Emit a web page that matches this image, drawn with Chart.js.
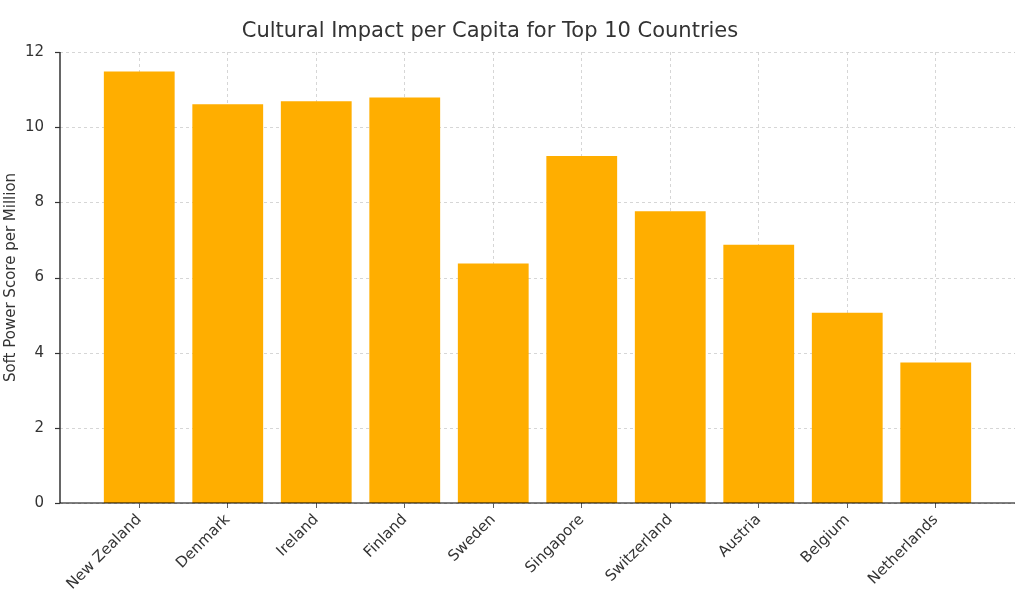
<!DOCTYPE html>
<html>
<head>
<meta charset="utf-8">
<script src="https://cdn.jsdelivr.net/npm/chart.js"></script>
<style>
  body { margin: 0; background: #fff; }
  #wrap { width: 1024px; height: 611px; }
</style>
</head>
<body>
<div id="wrap"><canvas id="chart"></canvas></div>
<script>
const countries = ['New Zealand', 'Denmark', 'Ireland', 'Finland', 'Sweden', 'Singapore', 'Switzerland', 'Austria', 'Belgium', 'Netherlands'];
const scores = [11.48, 10.61, 10.69, 10.79, 6.37, 9.23, 7.76, 6.87, 5.06, 3.74];
const yTicks = [0, 2, 4, 6, 8, 10, 12];

Chart.defaults.font.family = 'DejaVu Sans';
Chart.defaults.color = '#333';

// outer plot frame (axes span wider than the bar area)
const FRAME_LEFT = 60, FRAME_RIGHT = 1015;

new Chart(document.getElementById('chart'), {
  type: 'bar',
  data: {
    labels: countries,
    datasets: [{
      data: scores,
      backgroundColor: '#ffae00',
      barPercentage: 0.8,
      categoryPercentage: 1.0
    }]
  },
  options: {
    responsive: true,
    maintainAspectRatio: false,
    animation: false,
    layout: { padding: { left: 0, right: 44, top: 0, bottom: 0 } },
    plugins: {
      legend: { display: false },
      tooltip: { enabled: false },
      title: {
        display: true,
        text: 'Cultural Impact per Capita for Top 10 Countries',
        font: { size: 21, weight: 'normal' },
        color: '#333',
        padding: { top: 7, bottom: 8 }
      }
    },
    scales: {
      x: {
        offset: true,
        grid: { offset: false, color: '#cccccc', lineWidth: 0.8, tickColor: '#333', tickLength: 5 },
        border: { display: false, dash: [3, 3] },
        ticks: { maxRotation: 45, minRotation: 45, font: { size: 15 }, color: '#333' },
        afterFit: s => { s.height = 108; }
      },
      y: {
        min: 0, max: 12,
        afterBuildTicks: s => { s.ticks = yTicks.map(v => ({ value: v })); },
        grid: { display: false },
        border: { display: false },
        ticks: { font: { size: 15 }, color: '#333', padding: 43 },
        title: { display: true, text: 'Soft Power Score per Million', font: { size: 15 }, color: '#333', padding: 2 },
        afterFit: s => { s.width = 95; }
      }
    }
  },
  plugins: [{
    id: 'frame',
    beforeDatasetsDraw(c) {
      const { ctx } = c;
      const y = c.scales.y;
      ctx.save();
      ctx.strokeStyle = '#cccccc';
      ctx.lineWidth = 0.8;
      ctx.setLineDash([3, 3]);
      yTicks.forEach(v => {
        const py = Math.round(y.getPixelForValue(v)) + 0.5;
        ctx.beginPath();
        ctx.moveTo(FRAME_LEFT, py);
        ctx.lineTo(FRAME_RIGHT, py);
        ctx.stroke();
      });
      ctx.restore();
    },
    afterDraw(c) {
      const { ctx, chartArea: a } = c;
      const y = c.scales.y;
      ctx.save();
      ctx.strokeStyle = '#000';
      ctx.lineWidth = 1.2;
      ctx.beginPath();
      ctx.moveTo(FRAME_LEFT, a.top);
      ctx.lineTo(FRAME_LEFT, a.bottom);
      ctx.lineTo(FRAME_RIGHT, a.bottom);
      ctx.stroke();
      ctx.strokeStyle = '#333';
      yTicks.forEach(v => {
        const py = Math.round(y.getPixelForValue(v)) + 0.5;
        ctx.beginPath();
        ctx.moveTo(FRAME_LEFT - 5, py);
        ctx.lineTo(FRAME_LEFT, py);
        ctx.stroke();
      });
      ctx.restore();
    }
  }]
});
</script>
</body>
</html>
